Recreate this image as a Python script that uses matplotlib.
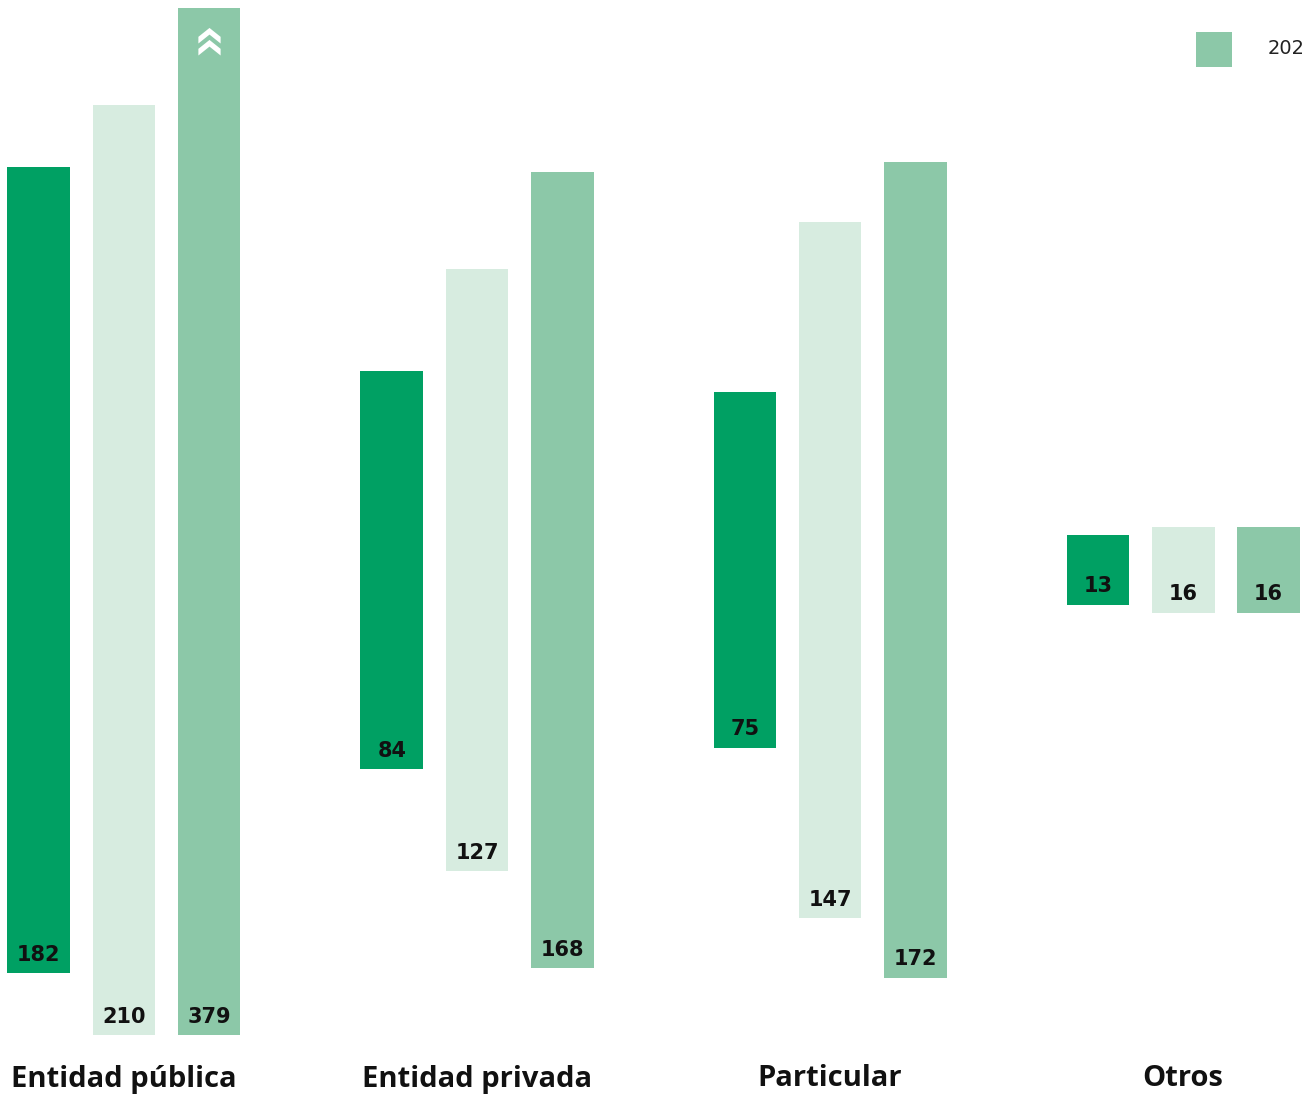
import numpy as np
import matplotlib.pyplot as plt
from matplotlib.path import Path

# Data
categories = ['Entidad pública', 'Entidad privada', 'Particular', 'Otros']
series_2021 = [182, 84, 75, 13]
series_2022 = [210, 127, 147, 16]
series_2023 = [379, 168, 172, 16]
legend_label = '202'

# Styles
colors = ['#00a063', '#d7ece0', '#8cc8a8']
group_scale = [1.0, 1.07, 1.07, 1.2]   # the original infographic is not to one scale
bar_width = 0.178
bar_step = 0.241

fig = plt.figure(figsize=(13.06, 11.02), dpi=100)
ax = fig.add_axes([0, (1102 - 1035) / 1102, 1, 1027 / 1102])

x = np.arange(len(categories))
all_series = [series_2021, series_2022, series_2023]
for i, (vals, col) in enumerate(zip(all_series, colors)):
    xs = x + (i - 1) * bar_step
    heights = np.array(vals) * np.array(group_scale)
    ax.bar(xs, heights, width=bar_width, bottom=-heights / 2, color=col, linewidth=0)
    for xi, h, v in zip(xs, heights, vals):
        bottom = max(-h / 2, -105)
        ax.annotate(str(v), (xi, bottom), xytext=(0, 6), textcoords='offset points',
                    ha='center', va='bottom', fontsize=15, fontweight='heavy',
                    family='DejaVu Sans', color='#111111')

# chevrons on the truncated bar
chevron = Path([(-1, -0.3), (0, 0.5), (1, -0.3), (1, -0.9), (0, -0.1), (-1, -0.9), (-1, -0.3)],
               [Path.MOVETO] + [Path.LINETO] * 5 + [Path.CLOSEPOLY])
ax.plot([x[0] + bar_step] * 2, [121.2, 118.6], linestyle='none', marker=chevron,
        markersize=16, color='white', markeredgewidth=0)

ax.set_xlim(-0.351, 3.348)
ax.set_ylim(-105, 126.9)
ax.axis('off')

for xi, cat in zip(x, categories):
    fig.text((xi + 0.351) / 3.699, 1 - 1079 / 1102, cat, ha='center', va='center',
             fontsize=21, fontweight='bold', family='Open Sans', color='#111111')

# legend fragment (cut off at the right edge in the original)
fig.patches.append(plt.Rectangle((1196 / 1306, 1 - 67 / 1102), 36 / 1306, 35 / 1102,
                                 transform=fig.transFigure, color=colors[2], linewidth=0))
fig.text(1268 / 1306, 1 - 49 / 1102, legend_label, ha='left', va='center',
         fontsize=14, color='#222222')

fig.savefig('out.png', dpi=100)
